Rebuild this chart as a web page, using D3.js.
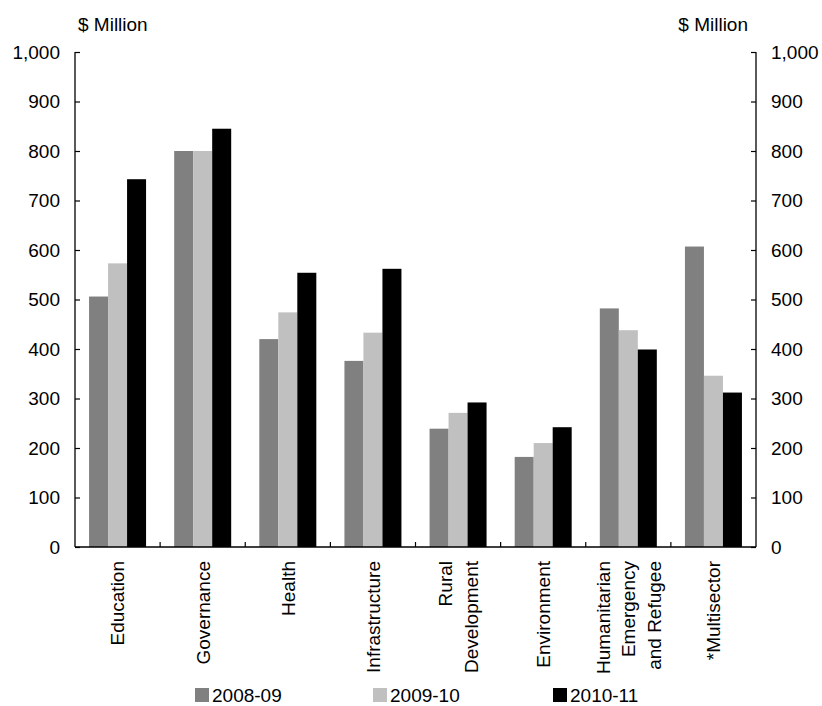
<!DOCTYPE html>
<html>
<head>
<meta charset="utf-8">
<script src="https://cdn.jsdelivr.net/npm/d3@7"></script>
<style>
  html, body { margin: 0; padding: 0; background: #fff; }
  svg text { font-family: "Liberation Sans", Arial, sans-serif; fill: #000; }
</style>
</head>
<body>
<svg id="chart" width="822" height="706"></svg>
<script>
const categories = [
  ["Education"],
  ["Governance"],
  ["Health"],
  ["Infrastructure"],
  ["Rural", "Development"],
  ["Environment"],
  ["Humanitarian", "Emergency", "and Refugee"],
  ["*Multisector"]
];
const seriesNames = ["2008-09", "2009-10", "2010-11"];
const values2008 = [506, 800, 420, 376, 239, 182, 482, 607];
const values2009 = [573, 800, 474, 433, 271, 210, 438, 346];
const values2010 = [743, 845, 554, 562, 292, 242, 399, 312];
const seriesColors = ["#808080", "#c0c0c0", "#000000"];
const yTicks = [0, 100, 200, 300, 400, 500, 600, 700, 800, 900, 1000];
const unitLabel = "$ Million";

const seriesValues = [values2008, values2009, values2010];
const catKeys = categories.map(c => c.join(" "));

const W = 822, H = 706;
const margin = {top: 52, right: 66, bottom: 159, left: 75};
const iw = W - margin.left - margin.right;
const ih = H - margin.top - margin.bottom;
const FS = 19;

const svg = d3.select("#chart");
const g = svg.append("g").attr("transform", `translate(${margin.left},${margin.top})`);

const x = d3.scaleBand().domain(catKeys).range([0, iw]).padding(0);
const x1 = d3.scaleBand().domain(seriesNames).range([0, x.bandwidth()]).paddingInner(0).paddingOuter(0.74);
const y = d3.scaleLinear().domain([0, 1000]).range([ih, 0]);

// bars
const groups = g.selectAll("g.cat").data(catKeys).enter().append("g")
  .attr("class", "cat")
  .attr("transform", d => `translate(${x(d)},0)`);
groups.selectAll("rect").data((d, i) => seriesNames.map((s, j) => ({s, v: seriesValues[j][i], j})))
  .enter().append("rect")
  .attr("x", d => x1(d.s))
  .attr("width", x1.bandwidth())
  .attr("y", d => y(d.v))
  .attr("height", d => ih - y(d.v))
  .attr("fill", d => seriesColors[d.j]);

// axes
const fmt = d3.format(",");
const leftAxis = d3.axisLeft(y).tickValues(yTicks).tickFormat(fmt).tickSize(-5).tickPadding(15);
const rightAxis = d3.axisRight(y).tickValues(yTicks).tickFormat(fmt).tickSize(-5).tickPadding(15);
const la = g.append("g").call(leftAxis);
const ra = g.append("g").attr("transform", `translate(${iw},0)`).call(rightAxis);
[la, ra].forEach(a => {
  a.select(".domain").attr("stroke", "#000").attr("stroke-width", 1.3).attr("d", `M0,0V${ih}`);
  a.selectAll(".tick line").attr("stroke", "#000").attr("stroke-width", 1.2);
  a.selectAll(".tick text").attr("font-size", FS).attr("font-family", "Liberation Sans, Arial, sans-serif").attr("fill", "#000");
});

// baseline
g.append("line").attr("x1", 0).attr("x2", iw).attr("y1", ih).attr("y2", ih)
  .attr("stroke", "#000").attr("stroke-width", 1.3);
// category separators
g.selectAll("line.sep").data(catKeys.slice(1)).enter().append("line")
  .attr("class", "sep")
  .attr("x1", d => x(d)).attr("x2", d => x(d))
  .attr("y1", ih).attr("y2", ih - 5)
  .attr("stroke", "#000").attr("stroke-width", 1.2);

// category labels
const lineGap = 25.5;
categories.forEach((lines, i) => {
  const cx = x(catKeys[i]) + x.bandwidth() / 2;
  const n = lines.length;
  lines.forEach((t, k) => {
    const off = (k - (n - 1) / 2) * lineGap;
    g.append("text")
      .attr("transform", `translate(${cx + off},${ih + 14}) rotate(-90)`)
      .attr("text-anchor", "end")
      .attr("dy", "0.36em")
      .attr("font-size", FS)
      .text(t);
  });
});

// unit labels
svg.append("text").attr("x", 78).attr("y", 31).attr("font-size", FS).text(unitLabel);
svg.append("text").attr("x", 748).attr("y", 31).attr("text-anchor", "end").attr("font-size", FS).text(unitLabel);

// legend
const legendX = [195, 373, 553];
const leg = svg.append("g");
seriesNames.forEach((s, j) => {
  leg.append("rect").attr("x", legendX[j]).attr("y", 688).attr("width", 14).attr("height", 14).attr("fill", seriesColors[j]);
  leg.append("text").attr("x", legendX[j] + 17).attr("y", 702).attr("font-size", FS).text(s);
});
</script>
</body>
</html>
